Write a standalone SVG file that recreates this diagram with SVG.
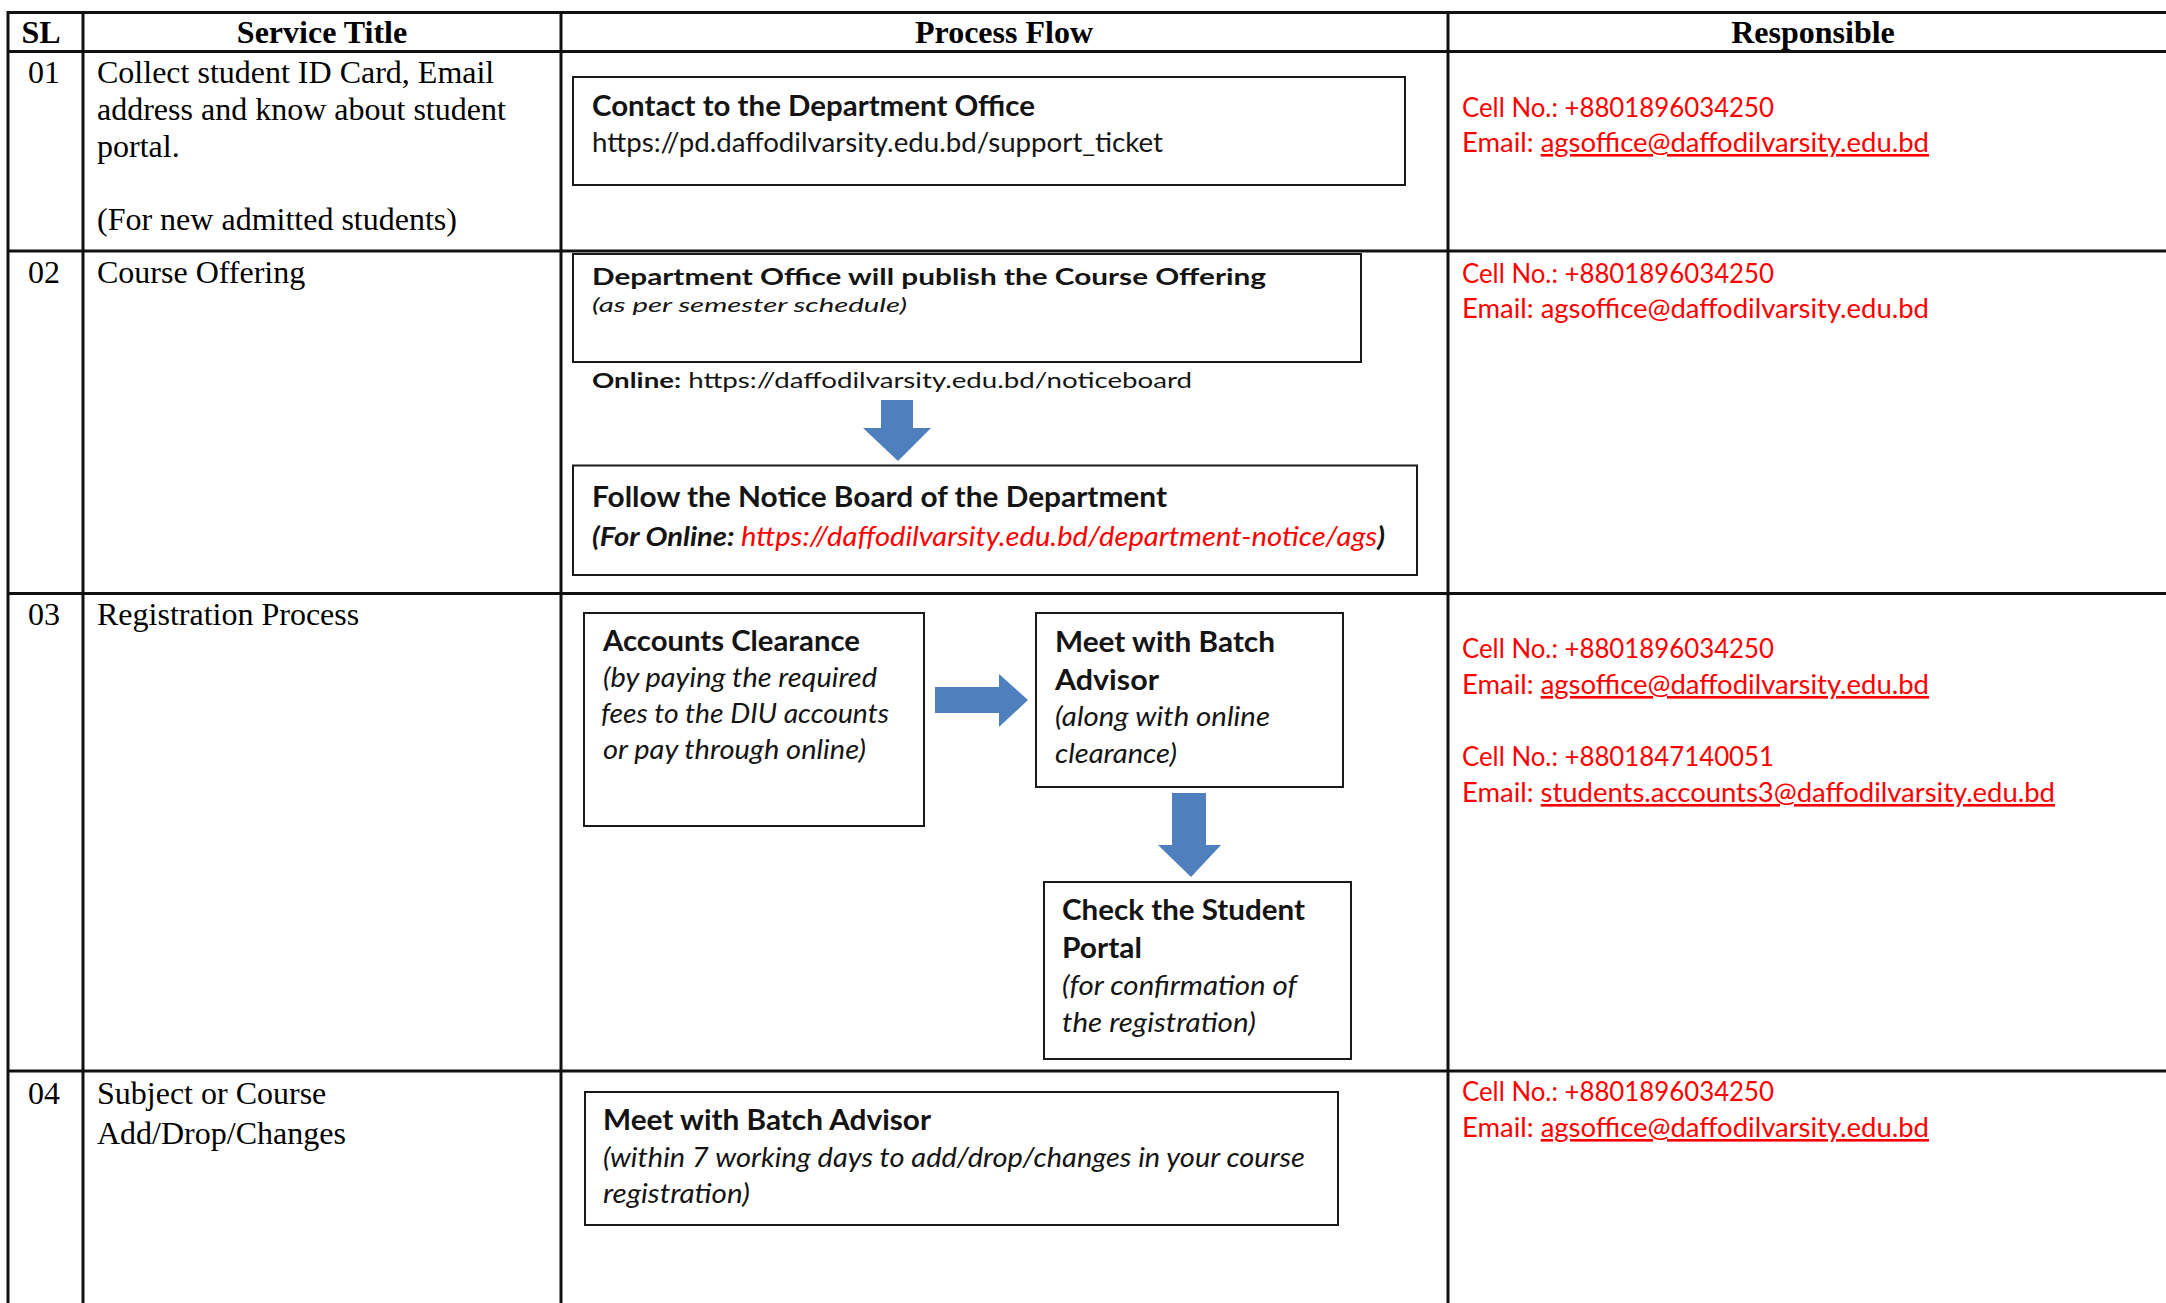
<svg xmlns="http://www.w3.org/2000/svg" width="2166" height="1303" viewBox="0 0 2166 1303">
<style>
.grid{stroke:#111;stroke-width:3;fill:none}
.tnr{font-family:"Liberation Serif","Times New Roman",serif;font-size:32px;fill:#000}
.hdr{font-weight:bold}
.box{fill:#fff;stroke:#1a1a1a;stroke-width:2}
.cal{font-family:Lato,"Open Sans",sans-serif;fill:#141414}
.b{font-weight:bold}
.i{font-style:italic}
.n{font-weight:normal}
.red{fill:#ff0000}
.resp{font-family:Lato,"Open Sans",sans-serif;font-size:26px;fill:#ff0000}
.u{text-decoration:underline}
.arrow{fill:#4f80bd}
</style>
<rect width="2166" height="1303" fill="#fff"/>
<g id="table-grid" class="grid">
<line x1="8" y1="12.5" x2="2166" y2="12.5"/>
<line x1="8" y1="51.5" x2="2166" y2="51.5"/>
<line x1="8" y1="251" x2="2166" y2="251"/>
<line x1="8" y1="593.5" x2="2166" y2="593.5"/>
<line x1="8" y1="1071" x2="2166" y2="1071"/>
<line x1="8" y1="11" x2="8" y2="1303"/>
<line x1="83" y1="11" x2="83" y2="1303"/>
<line x1="561" y1="11" x2="561" y2="1303"/>
<line x1="1448" y1="11" x2="1448" y2="1303"/>
</g>
<g id="header" class="tnr hdr">
<text x="41" y="43" text-anchor="middle">SL</text>
<text x="322" y="43" text-anchor="middle">Service Title</text>
<text x="1004" y="43" text-anchor="middle">Process Flow</text>
<text x="1813" y="43" text-anchor="middle">Responsible</text>
</g>
<g id="row-01-left" class="tnr">
<text x="44" y="83" text-anchor="middle">01</text>
<text x="97" y="83">Collect student ID Card, Email</text>
<text x="97" y="120">address and know about student</text>
<text x="97" y="157">portal.</text>
<text x="97" y="230">(For new admitted students)</text>
</g>
<g id="row-02-left" class="tnr">
<text x="44" y="283" text-anchor="middle">02</text>
<text x="97" y="283">Course Offering</text>
</g>
<g id="row-03-left" class="tnr">
<text x="44" y="625" text-anchor="middle">03</text>
<text x="97" y="625">Registration Process</text>
</g>
<g id="row-04-left" class="tnr">
<text x="44" y="1104" text-anchor="middle">04</text>
<text x="97" y="1104">Subject or Course</text>
<text x="97" y="1144">Add/Drop/Changes</text>
</g>

<g id="node-contact-office">
<rect class="box" x="573" y="77" width="832" height="108"/>
<text class="cal b" x="592" y="116" font-size="28" textLength="443" lengthAdjust="spacingAndGlyphs">Contact to the Department Office</text>
<text class="cal" x="592" y="152" font-size="26" textLength="571" lengthAdjust="spacingAndGlyphs">https://pd.daffodilvarsity.edu.bd/support_ticket</text>
</g>
<g id="node-publish-offering">
<rect class="box" x="573" y="254" width="788" height="108"/>
<text class="cal b" x="592" y="285" font-size="22.5" textLength="674" lengthAdjust="spacingAndGlyphs">Department Office will publish the Course Offering</text>
<text class="cal i" x="592" y="312" font-size="20" fill="#333" textLength="315" lengthAdjust="spacingAndGlyphs">(as per semester schedule)</text>
</g>
<g id="label-online">
<text class="cal" x="592" y="388" font-size="21" fill="#222" textLength="600" lengthAdjust="spacingAndGlyphs"><tspan class="b">Online:</tspan> https://daffodilvarsity.edu.bd/noticeboard</text>
</g>
<g id="node-notice-board">
<rect class="box" x="573" y="465.5" width="844" height="109.5"/>
<text class="cal b" x="592" y="507" font-size="29" textLength="575" lengthAdjust="spacingAndGlyphs">Follow the Notice Board of the Department</text>
<text class="cal b i" x="592" y="546" font-size="26.5" textLength="793" lengthAdjust="spacingAndGlyphs">(For Online: <tspan class="red n">https://daffodilvarsity.edu.bd/department-notice/ags</tspan>)</text>
</g>
<g id="node-accounts-clearance">
<rect class="box" x="584" y="613" width="340" height="213"/>
<text class="cal b" x="603" y="651" font-size="28" textLength="257" lengthAdjust="spacingAndGlyphs">Accounts Clearance</text>
<text class="cal i" x="603" y="687" font-size="26.5" textLength="274" lengthAdjust="spacingAndGlyphs">(by paying the required</text>
<text class="cal i" x="601" y="723" font-size="26.5" textLength="288" lengthAdjust="spacingAndGlyphs">fees to the DIU accounts</text>
<text class="cal i" x="603" y="759" font-size="26.5" textLength="263" lengthAdjust="spacingAndGlyphs">or pay through online)</text>
</g>
<g id="node-batch-advisor">
<rect class="box" x="1036" y="613" width="307" height="174"/>
<text class="cal b" x="1055" y="652" font-size="28" textLength="220" lengthAdjust="spacingAndGlyphs">Meet with Batch</text>
<text class="cal b" x="1055" y="690" font-size="28" textLength="104" lengthAdjust="spacingAndGlyphs">Advisor</text>
<text class="cal i" x="1055" y="726" font-size="26.5" textLength="215" lengthAdjust="spacingAndGlyphs">(along with online</text>
<text class="cal i" x="1055" y="763" font-size="26.5" textLength="122" lengthAdjust="spacingAndGlyphs">clearance)</text>
</g>
<g id="node-student-portal">
<rect class="box" x="1044" y="882" width="307" height="177"/>
<text class="cal b" x="1062" y="920" font-size="28" textLength="243" lengthAdjust="spacingAndGlyphs">Check the Student</text>
<text class="cal b" x="1062" y="958" font-size="28" textLength="80" lengthAdjust="spacingAndGlyphs">Portal</text>
<text class="cal i" x="1062" y="995" font-size="26.5" textLength="235" lengthAdjust="spacingAndGlyphs">(for confirmation of</text>
<text class="cal i" x="1062" y="1032" font-size="26.5" textLength="194" lengthAdjust="spacingAndGlyphs">the registration)</text>
</g>
<g id="node-add-drop">
<rect class="box" x="585" y="1092" width="753" height="133"/>
<text class="cal b" x="603" y="1130" font-size="28" textLength="328" lengthAdjust="spacingAndGlyphs">Meet with Batch Advisor</text>
<text class="cal i" x="603" y="1167" font-size="26.5" textLength="702" lengthAdjust="spacingAndGlyphs">(within 7 working days to add/drop/changes in your course</text>
<text class="cal i" x="603" y="1203" font-size="26.5" textLength="147" lengthAdjust="spacingAndGlyphs">registration)</text>
</g>

<g id="connectors" class="arrow">
<polygon points="881,400 913,400 913,428 931,428 898,461 863,428 881,428"/>
<polygon points="935,687 999,687 999,674 1028,700 999,727 999,713 935,713"/>
<polygon points="1172,793 1206,793 1206,845 1221,845 1191,877 1158,845 1172,845"/>
</g>

<g id="resp-01" class="resp">
<text x="1462" y="117" textLength="312" lengthAdjust="spacingAndGlyphs">Cell No.: +8801896034250</text>
<text x="1462" y="152" textLength="467" lengthAdjust="spacingAndGlyphs">Email: <tspan class="u">agsoffice@daffodilvarsity.edu.bd</tspan></text>
</g>
<g id="resp-02" class="resp">
<text x="1462" y="283" textLength="312" lengthAdjust="spacingAndGlyphs">Cell No.: +8801896034250</text>
<text x="1462" y="318" textLength="467" lengthAdjust="spacingAndGlyphs">Email: agsoffice@daffodilvarsity.edu.bd</text>
</g>
<g id="resp-03" class="resp">
<text x="1462" y="658" textLength="312" lengthAdjust="spacingAndGlyphs">Cell No.: +8801896034250</text>
<text x="1462" y="694" textLength="467" lengthAdjust="spacingAndGlyphs">Email: <tspan class="u">agsoffice@daffodilvarsity.edu.bd</tspan></text>
<text x="1462" y="766" textLength="312" lengthAdjust="spacingAndGlyphs">Cell No.: +8801847140051</text>
<text x="1462" y="802" textLength="593" lengthAdjust="spacingAndGlyphs">Email: <tspan class="u">students.accounts3@daffodilvarsity.edu.bd</tspan></text>
</g>
<g id="resp-04" class="resp">
<text x="1462" y="1101" textLength="312" lengthAdjust="spacingAndGlyphs">Cell No.: +8801896034250</text>
<text x="1462" y="1137" textLength="467" lengthAdjust="spacingAndGlyphs">Email: <tspan class="u">agsoffice@daffodilvarsity.edu.bd</tspan></text>
</g>
</svg>
